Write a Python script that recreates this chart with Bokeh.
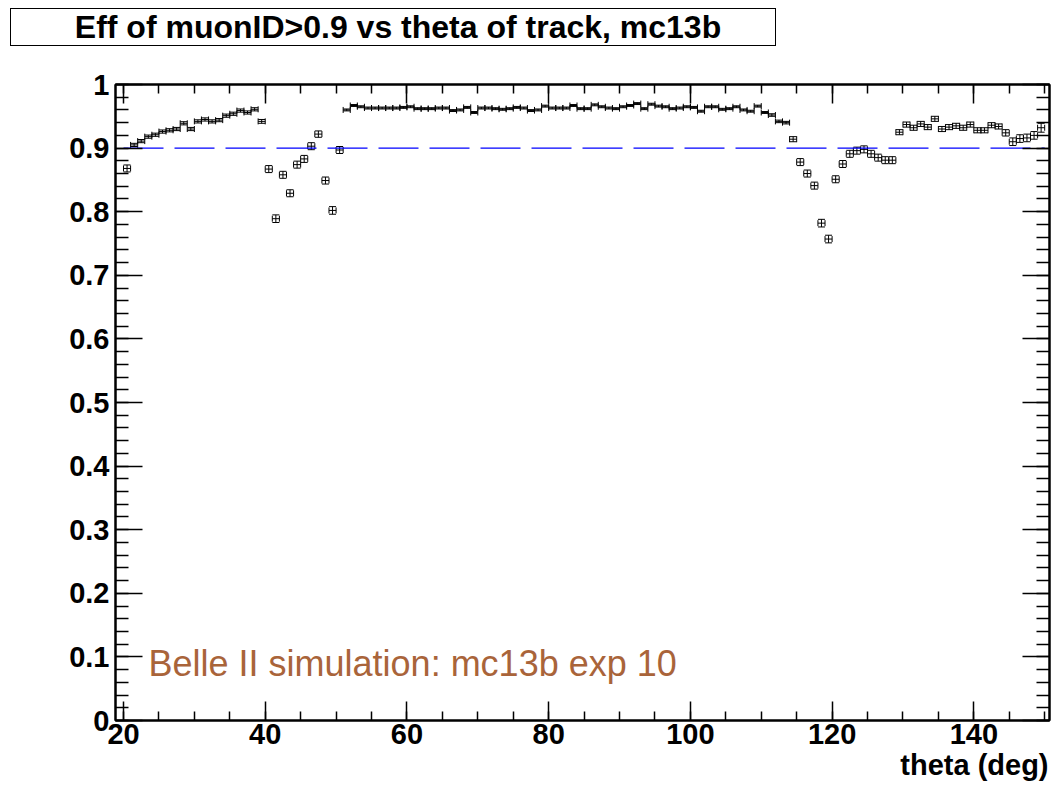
import html as _html
from bokeh.plotting import figure
from bokeh.layouts import column
from bokeh.models import (Range1d, LinearAxis, SingleIntervalTicker, CustomJSTickFormatter,
                          Whisker, TeeHead, ColumnDataSource, Label, Title, Div)
from bokeh.embed import file_html
from bokeh.resources import INLINE

# ---------------- data ----------------
theta = [20.5, 21.5, 22.5, 23.5, 24.5, 25.5, 26.5, 27.5, 28.5, 29.5,
         30.5, 31.5, 32.5, 33.5, 34.5, 35.5, 36.5, 37.5, 38.5, 39.5,
         40.5, 41.5, 42.5, 43.5, 44.5, 45.5, 46.5, 47.5, 48.5, 49.5,
         50.5, 51.5, 52.5, 53.5, 54.5, 55.5, 56.5, 57.5, 58.5, 59.5,
         60.5, 61.5, 62.5, 63.5, 64.5, 65.5, 66.5, 67.5, 68.5, 69.5,
         70.5, 71.5, 72.5, 73.5, 74.5, 75.5, 76.5, 77.5, 78.5, 79.5,
         80.5, 81.5, 82.5, 83.5, 84.5, 85.5, 86.5, 87.5, 88.5, 89.5,
         90.5, 91.5, 92.5, 93.5, 94.5, 95.5, 96.5, 97.5, 98.5, 99.5,
         100.5, 101.5, 102.5, 103.5, 104.5, 105.5, 106.5, 107.5, 108.5, 109.5,
         110.5, 111.5, 112.5, 113.5, 114.5, 115.5, 116.5, 117.5, 118.5, 119.5,
         120.5, 121.5, 122.5, 123.5, 124.5, 125.5, 126.5, 127.5, 128.5, 129.5,
         130.5, 131.5, 132.5, 133.5, 134.5, 135.5, 136.5, 137.5, 138.5, 139.5,
         140.5, 141.5, 142.5, 143.5, 144.5, 145.5, 146.5, 147.5, 148.5, 149.5]

eff = [0.868, 0.905, 0.911, 0.918, 0.921, 0.926, 0.928, 0.930, 0.939, 0.930,
       0.942, 0.945, 0.942, 0.944, 0.951, 0.954, 0.959, 0.956, 0.961, 0.942,
       0.867, 0.789, 0.858, 0.829, 0.874, 0.883, 0.903, 0.922, 0.849, 0.802,
       0.897, 0.960, 0.967, 0.965, 0.963, 0.963, 0.963, 0.963, 0.963, 0.964,
       0.965, 0.962, 0.962, 0.962, 0.963, 0.963, 0.959, 0.960, 0.964, 0.956,
       0.963, 0.963, 0.962, 0.961, 0.962, 0.964, 0.963, 0.959, 0.960, 0.966,
       0.963, 0.963, 0.963, 0.967, 0.962, 0.962, 0.968, 0.965, 0.963, 0.962,
       0.965, 0.967, 0.970, 0.962, 0.969, 0.966, 0.965, 0.962, 0.963, 0.965,
       0.964, 0.958, 0.965, 0.965, 0.961, 0.962, 0.965, 0.960, 0.958, 0.966,
       0.956, 0.952, 0.942, 0.940, 0.914, 0.878, 0.860, 0.841, 0.782, 0.757,
       0.851, 0.875, 0.891, 0.896, 0.898, 0.891, 0.885, 0.881, 0.881, 0.925,
       0.937, 0.932, 0.938, 0.933, 0.946, 0.930, 0.933, 0.935, 0.932, 0.937,
       0.928, 0.928, 0.936, 0.934, 0.924, 0.910, 0.915, 0.916, 0.920, 0.932]

eff_err = [0.0055, 0.0025, 0.0025, 0.0025, 0.0025, 0.0025, 0.0025, 0.0025, 0.0025, 0.0025,
           0.0025, 0.0025, 0.0025, 0.0025, 0.0025, 0.0025, 0.0025, 0.0025, 0.0025, 0.003,
           0.0055, 0.006, 0.0055, 0.0055, 0.0055, 0.0055, 0.0055, 0.005, 0.0055, 0.006,
           0.0055, 0.0015, 0.0015, 0.0015, 0.0015, 0.0015, 0.0015, 0.0015, 0.0015, 0.0015,
           0.0015, 0.0015, 0.0015, 0.0015, 0.0015, 0.0015, 0.0015, 0.0015, 0.0015, 0.0015,
           0.0015, 0.0015, 0.0015, 0.0015, 0.0015, 0.0015, 0.0015, 0.0015, 0.0015, 0.0015,
           0.0015, 0.0015, 0.0015, 0.0015, 0.0015, 0.0015, 0.0015, 0.0015, 0.0015, 0.0015,
           0.0015, 0.0015, 0.0015, 0.0015, 0.0015, 0.0015, 0.0015, 0.0015, 0.0015, 0.0015,
           0.0015, 0.0015, 0.0015, 0.0015, 0.0015, 0.0015, 0.0015, 0.0015, 0.0015, 0.0015,
           0.0015, 0.002, 0.002, 0.002, 0.004, 0.0055, 0.0055, 0.0055, 0.006, 0.006,
           0.0055, 0.0055, 0.0055, 0.0055, 0.0055, 0.0055, 0.0055, 0.0055, 0.0055, 0.004,
           0.004, 0.004, 0.004, 0.004, 0.004, 0.004, 0.004, 0.004, 0.004, 0.004,
           0.004, 0.004, 0.004, 0.004, 0.005, 0.006, 0.006, 0.006, 0.006, 0.007]

bin_half_width = 0.5
cut_value = 0.9
cut_theta = [20, 150]

title_text = "Eff of muonID>0.9 vs theta of track, mc13b"
x_label = "theta (deg)"
note_text = "Belle II simulation: mc13b exp 10"

# ---------------- layout ----------------
W, H = 1053, 788
TH = 52                      # height of the title strip
FL, FR, FT, FB = 115, 1049, 84, 720
XMIN, XMAX = 18.87, 150.68
YMIN, YMAX = 0.0, 1.0
FONT = "Liberation Sans"


def px2x(px):
    return XMIN + (px - FL) * (XMAX - XMIN) / (FR - FL)


def py2y(py):
    return YMIN + (FB - py) * (YMAX - YMIN) / (FB - FT)


# ---- title strip: a bordered box with the title text ----
title_html = (
    '<div style="margin:0;padding:8px 0 0 10px;">'
    '<div style="box-sizing:content-box;width:754px;height:36px;padding:0 0 0 10px;'
    'border:1.5px solid #000;background:#fff;color:#000;'
    "font-family:'Liberation Sans',Arial,sans-serif;font-weight:bold;font-size:32px;"
    'line-height:36px;text-align:center;white-space:nowrap;overflow:hidden;">'
    + _html.escape(title_text) + '</div></div>'
)
tdiv = Div(text=title_html, width=W, height=TH, styles={"margin": "0", "padding": "0"})

# ---- main plot ----
p = figure(width=W, height=H - TH, x_range=Range1d(XMIN, XMAX), y_range=Range1d(YMIN, YMAX),
           output_backend="svg", toolbar_location=None,
           x_axis_type=None, y_axis_type=None, title_location=None,
           min_border_left=FL, min_border_right=W - FR,
           min_border_top=FT - TH, min_border_bottom=H - FB)
p.background_fill_color = "white"
p.border_fill_color = "white"
p.outline_line_color = "black"
p.outline_line_width = 2

xt = SingleIntervalTicker(interval=20, num_minor_ticks=4)
yt = SingleIntervalTicker(interval=0.1, num_minor_ticks=5)
yfmt = CustomJSTickFormatter(code="return String(Number(tick.toFixed(2)));")
blank = CustomJSTickFormatter(code="return '';")


def mk_axis(ticker, tin, tmin, fmt=None, labels=True):
    kw = dict(ticker=ticker, axis_line_width=2, axis_line_color="black",
              major_tick_in=tin, major_tick_out=0, minor_tick_in=tmin, minor_tick_out=0,
              major_tick_line_width=1.5, minor_tick_line_width=1.5,
              major_tick_line_color="black", minor_tick_line_color="black")
    if labels:
        kw.update(major_label_text_font=FONT, major_label_text_font_style="bold",
                  major_label_text_font_size="29px", major_label_text_color="black")
    else:
        kw.update(major_label_text_font_size="0px", major_label_standoff=0)
    if fmt is not None:
        kw["formatter"] = fmt
    return LinearAxis(**kw)


bx = mk_axis(xt, 19, 9)
bx.major_label_standoff = 3
ly = mk_axis(yt, 27, 13, fmt=yfmt)
ly.major_label_standoff = 6
tx = mk_axis(xt, 19, 9, fmt=blank, labels=False)
ry = mk_axis(yt, 27, 13, fmt=blank, labels=False)
p.add_layout(bx, "below")
p.add_layout(ly, "left")
p.add_layout(tx, "above")
p.add_layout(ry, "right")

src = ColumnDataSource(dict(
    theta=theta, eff=eff,
    xlo=[t - bin_half_width for t in theta], xhi=[t + bin_half_width for t in theta],
    ylo=[e - s for e, s in zip(eff, eff_err)], yhi=[e + s for e, s in zip(eff, eff_err)],
))

hw = Whisker(source=src, base="eff", lower="xlo", upper="xhi", dimension="width",
             line_color="black", line_width=1,
             lower_head=TeeHead(size=6, line_color="black", line_width=1),
             upper_head=TeeHead(size=6, line_color="black", line_width=1))
vw = Whisker(source=src, base="theta", lower="ylo", upper="yhi", dimension="height",
             line_color="black", line_width=1,
             lower_head=TeeHead(size=7, line_color="black", line_width=1),
             upper_head=TeeHead(size=7, line_color="black", line_width=1))
p.add_layout(hw)
p.add_layout(vw)

p.segment(x0=[cut_theta[0]], y0=[cut_value], x1=[cut_theta[1]], y1=[cut_value],
          line_color="#0000ff", line_width=1.2, line_dash="40 11")

# x-axis label at the bottom right
xl = Title(text=x_label, align="right", offset=1, standoff=0,
           text_font=FONT, text_font_style="bold", text_font_size="29px",
           text_color="black")
p.add_layout(xl, "below")

p.add_layout(Label(x=px2x(148), y=py2y(663), text=note_text, text_align="left",
                   text_baseline="alphabetic", text_font=FONT, text_font_style="normal",
                   text_font_size="36px", text_color="#a9643a"))

page = column(tdiv, p, spacing=0)
open("out.html", "w").write(file_html(page, INLINE))
